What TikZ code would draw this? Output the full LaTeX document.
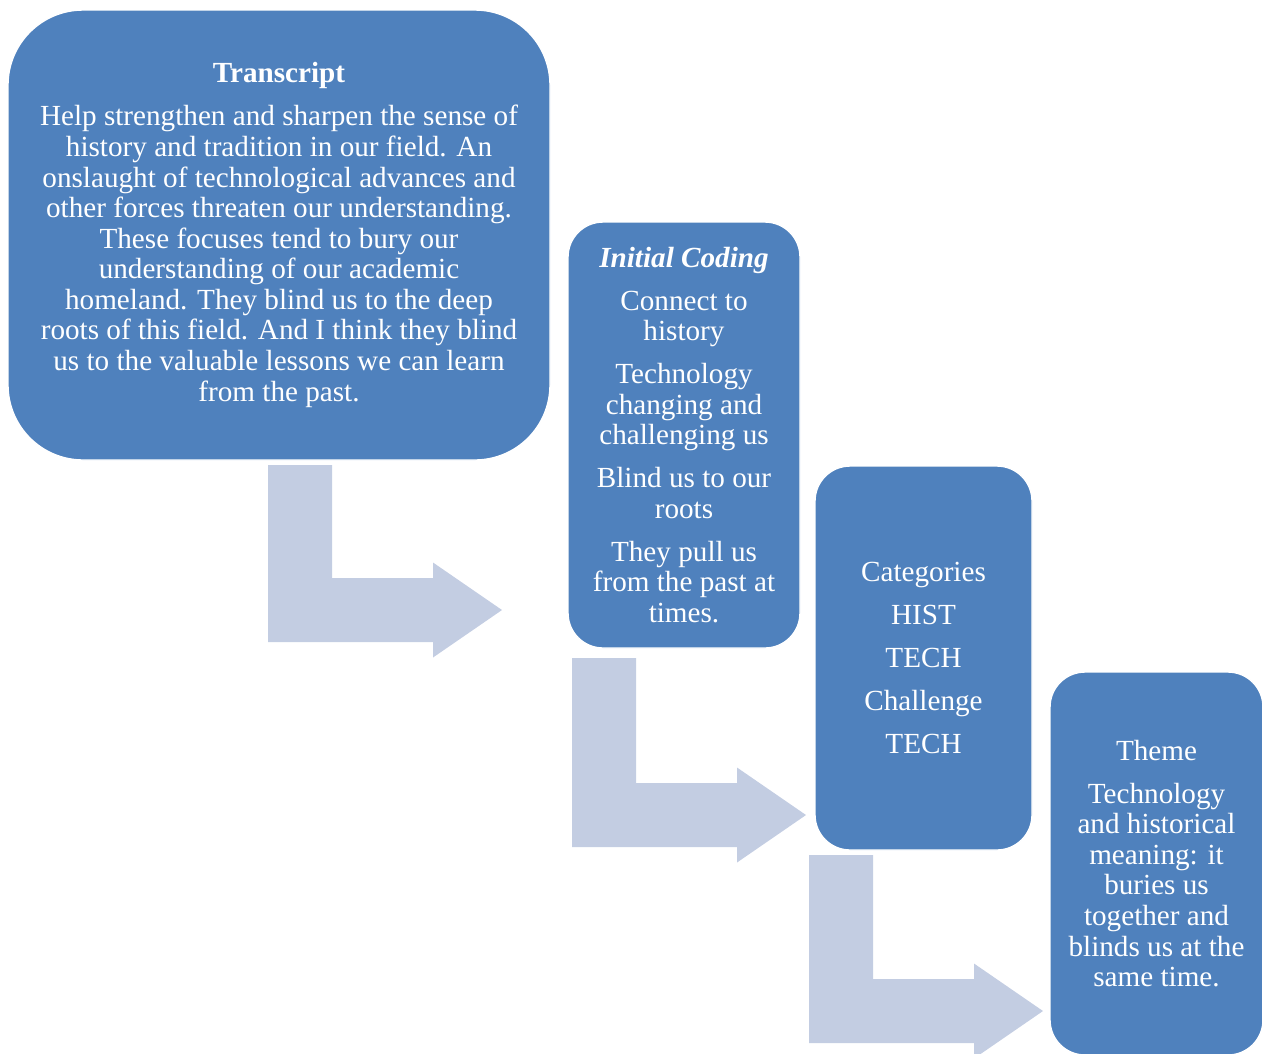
\documentclass[tikz,border=0pt]{standalone}
\usepackage{fontspec}
\setmainfont{Liberation Serif}
\definecolor{boxblue}{RGB}{79,129,189}
\definecolor{arrowgray}{RGB}{195,205,226}

\tikzset{
    stagebox/.style={rectangle, draw=white, line width=0.8pt, fill=boxblue, text=white,
        align=center, inner sep=0pt, font=\fontsize{16.6}{17.4}\selectfont},
    pics/bentarr/.style={code={
        \fill[arrowgray] (0,0) -- (1.28,0) -- (1.28,-#1+1.28) -- (3.30,-#1+1.28)
            -- (3.30,-#1+0.64+0.95) -- (4.68,-#1+0.64) -- (3.30,-#1+0.64-0.95)
            -- (3.30,-#1) -- (0,-#1) -- cycle;
    }}
}

\begin{document}
\begin{tikzpicture}

\useasboundingbox (0,0) rectangle (25.24,-21.06);

% Cajas
\node[stagebox, minimum width=10.84cm, minimum height=9.0cm, rounded corners=1.5cm] (trans) at (5.58,-4.70)
    {\textbf{Transcript}\\[7pt]
     Help strengthen and sharpen the sense of\\
     history and tradition in our field. An\\
     onslaught of technological advances and\\
     other forces threaten our understanding.\\
     These focuses tend to bury our\\
     understanding of our academic\\
     homeland. They blind us to the deep\\
     roots of this field. And I think they blind\\
     us to the valuable lessons we can learn\\
     from the past.};
\node[stagebox, minimum width=4.64cm, minimum height=8.52cm, rounded corners=0.7cm] (coding) at (13.68,-8.70)
    {\textbf{\textit{Initial Coding}}\\[7pt]
     Connect to\\ history\\[7pt]
     Technology\\ changing and\\ challenging us\\[7pt]
     Blind us to our\\ roots\\[7pt]
     They pull us\\ from the past at\\ times.};
\node[stagebox, minimum width=4.34cm, minimum height=7.68cm, rounded corners=0.7cm] (categ) at (18.47,-13.16)
    {Categories\\[7pt] HIST\\[7pt] TECH\\[7pt] Challenge\\[7pt] TECH};
\node[stagebox, minimum width=4.26cm, minimum height=7.66cm, rounded corners=0.7cm] (theme) at (23.13,-17.27)
    {Theme\\[7pt]
     Technology\\ and historical\\ meaning: it\\ buries us\\ together and\\ blinds us at the\\ same time.};

% Flechas
\pic at (5.36,-9.30) {bentarr=3.54};
\pic at (11.44,-13.16) {bentarr=3.78};
\pic at (16.18,-17.10) {bentarr=3.76};

\end{tikzpicture}
\end{document}
